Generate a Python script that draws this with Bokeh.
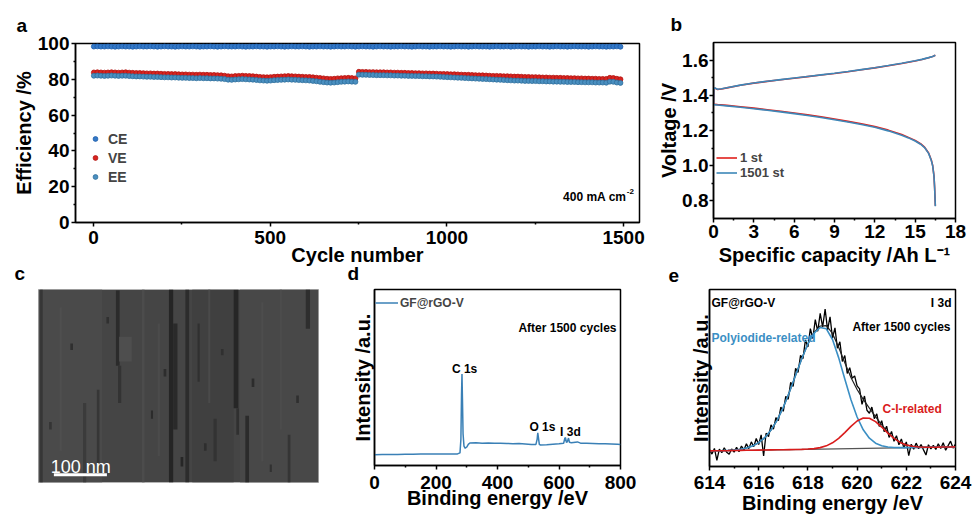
from bokeh.plotting import figure
from bokeh.layouts import column, row
from bokeh.models import Legend, LegendItem, Label, Title, FixedTicker, Range1d, PrintfTickFormatter
from bokeh.embed import file_html
from bokeh.resources import INLINE

FONT = "Liberation Sans"

# ---------- a: efficiencies, every 10th cycle ----------
cycles = list(range(1, 1501, 10))
ce = [98.3, 98.4, 98.3, 98.3, 98.4, 98.3, 98.2, 98.3, 98.4, 98.3,
      98.3, 98.2, 98.3, 98.4, 98.3, 98.3, 98.4, 98.3, 98.2, 98.3,
      98.4, 98.3, 98.3, 98.2, 98.3, 98.4, 98.3, 98.3, 98.4, 98.3,
      98.2, 98.3, 98.3, 98.4, 98.3, 98.2, 98.3, 98.4, 98.3, 98.3,
      98.3, 98.4, 98.3, 98.2, 98.3, 98.3, 98.4, 98.3, 98.3, 98.2,
      98.3, 98.3, 98.4, 98.3, 98.2, 98.3, 98.4, 98.3, 98.3, 98.4,
      98.3, 98.2, 98.3, 98.3, 98.4, 98.3, 98.3, 98.2, 98.3, 98.4,
      98.3, 98.3, 98.4, 98.3, 98.2, 98.3, 98.4, 98.3, 98.3, 98.2,
      98.3, 98.4, 98.3, 98.3, 98.2, 98.3, 98.3, 98.4, 98.3, 98.3,
      98.2, 98.3, 98.4, 98.3, 98.3, 98.2, 98.3, 98.3, 98.4, 98.3,
      98.3, 98.2, 98.3, 98.4, 98.3, 98.3, 98.2, 98.3, 98.4, 98.3,
      98.3, 98.3, 98.2, 98.3, 98.4, 98.3, 98.3, 98.4, 98.2, 98.3,
      98.4, 98.3, 98.3, 98.2, 98.3, 98.3, 98.4, 98.3, 98.3, 98.2,
      98.3, 98.4, 98.3, 98.3, 98.2, 98.3, 98.4, 98.3, 98.3, 98.3,
      98.2, 98.3, 98.4, 98.3, 98.3, 98.2, 98.3, 98.3, 98.4, 98.2]
ve = [83.8, 83.9, 83.8, 83.7, 83.8, 83.9, 83.8, 83.7, 83.8, 83.9,
      83.7, 83.6, 83.5, 83.5, 83.4, 83.3, 83.3, 83.2, 83.2, 83.1,
      83.0, 83.0, 82.9, 82.9, 82.8, 82.7, 82.7, 82.6, 82.6, 82.5,
      82.6, 82.5, 82.5, 82.4, 82.4, 82.3, 82.2, 82.0, 81.7, 81.6,
      81.8, 81.9, 82.0, 81.9, 81.8, 81.7, 81.5, 81.3, 81.2, 81.1,
      81.2, 81.4, 81.5, 81.6, 81.7, 81.8, 81.7, 81.6, 81.5, 81.4,
      81.3, 81.3, 81.1, 80.9, 80.7, 80.5, 80.3, 80.2, 80.3, 80.5,
      80.6, 80.7, 80.8, 80.7, 80.5, 84.2, 84.1, 84.1, 84.0, 84.0,
      83.9, 83.9, 83.9, 83.8, 83.8, 83.7, 83.7, 83.6, 83.6, 83.5,
      83.5, 83.4, 83.4, 83.3, 83.3, 83.2, 83.2, 83.1, 83.0, 83.0,
      82.9, 82.8, 82.8, 82.7, 82.6, 82.5, 82.5, 82.4, 82.3, 82.2,
      82.2, 82.1, 82.0, 81.9, 81.9, 81.8, 81.7, 81.7, 81.6, 81.5,
      81.5, 81.4, 81.3, 81.3, 81.2, 81.2, 81.1, 81.0, 81.0, 80.9,
      80.9, 80.8, 80.8, 80.7, 80.7, 80.6, 80.6, 80.5, 80.5, 80.4,
      80.4, 80.3, 80.3, 80.2, 80.2, 80.2, 80.8, 80.7, 80.3, 80.0]
ee = [82.0, 82.1, 82.0, 81.9, 82.0, 82.1, 82.0, 81.9, 82.0, 82.0,
      81.8, 81.7, 81.6, 81.6, 81.5, 81.4, 81.4, 81.3, 81.3, 81.2,
      81.1, 81.1, 81.0, 81.0, 80.9, 80.8, 80.8, 80.7, 80.7, 80.6,
      80.7, 80.6, 80.6, 80.5, 80.5, 80.4, 80.3, 80.1, 79.8, 79.7,
      79.9, 80.0, 80.1, 80.0, 79.9, 79.8, 79.6, 79.4, 79.3, 79.2,
      79.3, 79.5, 79.6, 79.7, 79.8, 79.9, 79.8, 79.7, 79.6, 79.5,
      79.4, 79.3, 79.1, 78.9, 78.6, 78.4, 78.2, 78.1, 78.2, 78.4,
      78.6, 78.7, 78.8, 78.7, 78.6, 82.6, 82.5, 82.5, 82.4, 82.4,
      82.3, 82.3, 82.3, 82.2, 82.2, 82.1, 82.1, 82.0, 82.0, 81.9,
      81.9, 81.8, 81.8, 81.7, 81.7, 81.6, 81.6, 81.5, 81.4, 81.3,
      81.2, 81.1, 81.0, 80.9, 80.8, 80.7, 80.6, 80.5, 80.4, 80.3,
      80.2, 80.1, 80.0, 79.9, 79.8, 79.7, 79.6, 79.5, 79.4, 79.3,
      79.3, 79.2, 79.1, 79.1, 79.0, 79.0, 78.9, 78.9, 78.8, 78.8,
      78.7, 78.7, 78.6, 78.6, 78.5, 78.5, 78.5, 78.4, 78.4, 78.3,
      78.3, 78.3, 78.2, 78.2, 78.2, 78.1, 78.7, 78.6, 78.2, 78.0]

# ---------- b: charge / discharge curves ----------
chg_cap = [0, 0.03, 0.1, 0.3, 0.6, 1, 2, 3, 4, 5, 6, 7, 8, 9, 10, 11, 12, 13, 14, 15, 15.5, 16, 16.3, 16.5]
chg_1st = [1.345, 1.438, 1.441, 1.433, 1.436, 1.442, 1.457, 1.469, 1.479, 1.488, 1.497, 1.506,
           1.515, 1.524, 1.534, 1.545, 1.556, 1.568, 1.581, 1.595, 1.603, 1.613, 1.620, 1.627]
chg_1501 = [1.345, 1.440, 1.442, 1.434, 1.437, 1.443, 1.458, 1.470, 1.480, 1.489, 1.498, 1.507,
            1.516, 1.525, 1.535, 1.546, 1.557, 1.569, 1.582, 1.596, 1.604, 1.614, 1.621, 1.628]
dis_cap = [0, 0.3, 1, 2, 3, 4, 5, 6, 7, 8, 9, 10, 11, 12, 13, 14, 14.5, 15, 15.4, 15.7,
           16.0, 16.2, 16.3, 16.4, 16.45, 16.5]
dis_1st = [1.349, 1.347, 1.343, 1.335, 1.327, 1.318, 1.309, 1.299, 1.289, 1.278, 1.265, 1.252, 1.238,
           1.222, 1.202, 1.177, 1.161, 1.143, 1.125, 1.105, 1.072, 1.032, 1.002, 0.942, 0.872, 0.772]
dis_1501 = [1.347, 1.345, 1.340, 1.332, 1.324, 1.315, 1.306, 1.296, 1.285, 1.274, 1.261, 1.248, 1.234,
            1.218, 1.198, 1.173, 1.158, 1.140, 1.122, 1.103, 1.070, 1.030, 1.000, 0.940, 0.870, 0.770]

# ---------- c: SEM image, drawn as grey streaks and pores (nm) ----------
sem_left = [0, 380, 290, 3, 84, 110, 146, 150, 246, 254, 277, 300, 330, 368, 373, 390, 504, 470,
            40, 152, 195, 225, 320, 420, 455, 60, 128, 212, 236, 268, 312, 344, 402, 436, 486, 20]
sem_right = [120, 528, 368, 8, 90, 115, 153, 156, 254, 262, 284, 304, 336, 377, 378, 397, 512, 475,
             44, 176, 200, 229, 324, 424, 459, 65, 133, 216, 241, 273, 317, 349, 407, 440, 491, 25]
sem_bottom = [0, 0, 0, 0, 0, 20, 220, 150, 0, 100, 0, 190, 40, 140, 90, 0, 290, 0,
              60, 228, 0, 50, 150, 40, 100, 250, 300, 120, 200, 30, 60, 240, 180, 20, 150, 100]
sem_top = [364, 364, 364, 364, 150, 175, 362, 220, 364, 300, 364, 300, 120, 364, 140, 126, 364, 90,
           330, 275, 364, 300, 364, 340, 364, 262, 312, 136, 214, 48, 74, 252, 196, 34, 164, 114]
sem_color = ["#4a4a4a", "#484848", "#404040", "#363636", "#3b3b3b", "#363636", "#2b2b2b", "#333333",
             "#252525", "#2a2a2a", "#2c2c2c", "#303030", "#333333", "#262626", "#303030", "#2b2b2b",
             "#2e2e2e", "#353535", "#4f4f4f", "#4e4e4e", "#4c4c4c", "#4b4b4b", "#4a4a4a", "#4d4d4d",
             "#4c4c4c", "#2f2f2f", "#303030", "#2b2b2b", "#2d2d2d", "#262626", "#2e2e2e", "#303030",
             "#2c2c2c", "#313131", "#2f2f2f", "#343434"]
bar_nm = 100

# ---------- d: XPS survey ----------
survey_ev = [0, 25, 50, 75, 100, 125, 150, 175, 200, 225, 250, 270, 278, 281, 283, 284.5, 286, 288, 291,
             295, 300, 305, 310, 330, 350, 370, 390, 410, 430, 450, 470, 490, 510, 525, 529, 531, 533,
             536, 540, 560, 580, 600, 615, 619, 621, 624, 627, 631, 634, 640, 660, 670, 690, 710, 730,
             750, 770, 790, 800]
survey_int = [6.1, 6.2, 6.3, 6.3, 6.4, 6.4, 6.5, 6.5, 6.5, 6.6, 6.6, 6.6, 7.2, 15, 40, 52, 38, 18, 11,
              9.8, 10.5, 12.0, 12.8, 12.9, 12.7, 12.8, 12.6, 12.7, 12.5, 12.4, 12.5, 12.2, 11.9, 12.0, 15,
              18.6, 16, 12, 11.6, 11.8, 12.1, 12.3, 12.6, 15.5, 15.8, 13.2, 13.5, 15.6, 13.2, 12.9, 13.4,
              12.7, 12.6, 12.5, 12.4, 12.3, 12.2, 12.1, 12.0]

# ---------- e: I 3d high resolution ----------
i3d_ev = [round(614 + 0.1 * i, 1) for i in range(101)]
i3d_int = [9.5, 7.0, 10.2, 3.5, 9.8, 7.8, 10.6, 8.0, 6.9, 9.9,
           8.1, 10.8, 8.4, 11.6, 9.3, 12.8, 10.1, 13.9, 11.2, 15.8,
           12.4, 17.9, 6.0, 18.8, 16.9, 23.5, 21.1, 27.6, 25.9, 33.5,
           31.2, 39.6, 38.0, 47.5, 45.2, 55.4, 53.1, 62.8, 60.9, 71.5,
           67.5, 77.9, 72.3, 83.0, 76.4, 86.5, 78.8, 89.0, 77.2, 84.6,
           72.6, 78.3, 66.8, 70.5, 59.3, 62.7, 52.6, 55.8, 49.9, 51.2,
           45.6, 43.9, 35.1, 39.8, 31.8, 30.1, 33.6, 27.0, 29.8, 22.6,
           25.9, 19.7, 22.8, 16.4, 19.8, 14.2, 17.4, 12.3, 15.6, 10.5,
           13.9, 6.2, 12.6, 9.8, 13.2, 10.1, 12.4, 9.4, 6.5, 12.3,
           10.0, 11.9, 9.6, 12.8, 10.2, 13.4, 9.2, 11.8, 14.3, 10.4, 12.6]
fit_ev = [614 + 0.25 * i for i in range(41)]
fit_poly = [8.81, 8.89, 8.99, 9.12, 9.36, 9.76, 10.45, 11.60, 13.50, 16.37, 20.58, 26.23, 33.39, 42.05,
            51.51, 60.86, 69.22, 75.38, 78.54, 77.79, 71.75, 61.51, 49.47, 37.72, 27.98, 20.74, 15.97,
            13.16, 11.69, 11.00, 10.73, 10.65, 10.64, 10.70, 10.76, 10.81, 10.87, 10.93, 10.99, 11.04, 11.10]
fit_ci = [8.80, 8.86, 8.92, 8.97, 9.03, 9.09, 9.15, 9.20, 9.26, 9.32, 9.38, 9.43, 9.49, 9.55, 9.62,
          9.70, 9.85, 10.12, 10.67, 11.67, 13.37, 15.91, 19.17, 22.68, 25.70, 27.39, 27.26, 25.35, 22.29,
          18.89, 15.87, 13.61, 12.18, 11.40, 11.04, 10.91, 10.90, 10.93, 10.99, 11.04, 11.10]
fit_sum = [8.81, 8.89, 8.99, 9.12, 9.36, 9.76, 10.45, 11.60, 13.50, 16.37, 20.58, 26.23, 33.39, 42.05,
           51.52, 60.90, 69.35, 75.72, 79.37, 79.57, 75.17, 67.41, 58.57, 50.28, 43.50, 37.89, 32.93,
           28.16, 23.57, 19.42, 16.07, 13.68, 12.18, 11.40, 11.04, 10.91, 10.90, 10.93, 10.99, 11.04, 11.10]
base_ev = [614, 624]
base_int = [8.8, 11.1]


def make_fig(w, h, left, right, top, bottom, xr, yr, axes=True):
    kw = {} if axes else dict(x_axis_location=None, y_axis_location=None)
    p = figure(width=w, height=h, x_range=Range1d(*xr), y_range=Range1d(*yr),
               min_border_left=left, min_border_right=right,
               min_border_top=top, min_border_bottom=bottom,
               toolbar_location=None, output_backend="svg", title=None, **kw)
    p.xgrid.visible = False
    p.ygrid.visible = False
    p.outline_line_color = "black"
    p.outline_line_width = 1.5
    return p


def style_axes(p, x_std, y_std, lbl_std=2):
    for ax in p.axis:
        ax.axis_line_width = 1.5
        ax.major_tick_line_width = 1.5
        ax.minor_tick_line_width = 1.5
        ax.major_tick_in = 0
        ax.major_tick_out = 4
        ax.minor_tick_in = 0
        ax.minor_tick_out = 2
        ax.major_label_standoff = lbl_std
        ax.major_label_text_font = FONT
        ax.major_label_text_font_style = "bold"
        ax.major_label_text_font_size = "19px"
        ax.major_label_text_color = "black"
        ax.axis_label_text_font = FONT
        ax.axis_label_text_font_style = "bold"
        ax.axis_label_text_font_size = "20px"
        ax.axis_label_text_color = "black"
    p.xaxis.axis_label_standoff = x_std
    p.yaxis.axis_label_standoff = y_std


def hide_y(p):
    p.yaxis.ticker = FixedTicker(ticks=[])
    p.yaxis.major_tick_out = 0
    p.yaxis.minor_tick_out = 0


def note(p, text, x, y, size="12px", color="black", align="left", units="screen", style="bold"):
    p.add_layout(Label(x=x, y=y, x_units=units, y_units=units, text=text, text_font=FONT,
                       text_font_style=style, text_font_size=size, text_color=color,
                       text_align=align, text_baseline="alphabetic"))


def letter(p, text, offset, standoff):
    p.add_layout(Title(text=text, align="left", offset=offset, standoff=standoff, text_font=FONT,
                       text_font_style="bold", text_font_size="19px", text_color="black"), "above")


def small_legend(items, loc, size, gw, gh, std):
    return Legend(items=items, location=loc, border_line_color=None, background_fill_alpha=0,
                  label_text_font=FONT, label_text_font_style="bold", label_text_font_size=size,
                  glyph_width=gw, glyph_height=gh, label_height=gh, label_standoff=std,
                  spacing=0, padding=0, margin=0)


TOP_H = 278      # top row canvas height
BOT_H = 278      # bottom row canvas height (starts above the end of the top row)
OVERLAP = TOP_H + BOT_H - 524
top_c = 289 - (524 - BOT_H)

# ---------- panel a ----------
pa = make_fig(655, TOP_H, 75, 16, 43, TOP_H - 222, (-51, 1545), (0, 100))
r_ce = pa.scatter(cycles, ce, size=5, marker="circle", fill_color="#3479c8", line_color="#1c5ca8", line_width=0.8)
r_ve = pa.scatter(cycles, ve, size=5, marker="circle", fill_color="#d9231f", line_color="#b01512", line_width=0.8)
r_ee = pa.scatter(cycles, ee, size=5, marker="circle", fill_color="#4a8fc0", line_color="#2f6f9c", line_width=0.8)
pa.xaxis.axis_label = "Cycle number"
pa.yaxis.axis_label = "Efficiency /%"
pa.xaxis.ticker = FixedTicker(ticks=[0, 500, 1000, 1500], minor_ticks=[250, 750, 1250])
pa.yaxis.ticker = FixedTicker(ticks=[0, 20, 40, 60, 80, 100], minor_ticks=[10, 30, 50, 70, 90])
style_axes(pa, -3, 0)
pa.xaxis.major_label_standoff = 4
pa.add_layout(small_legend([LegendItem(label="CE", renderers=[r_ce]),
                            LegendItem(label="VE", renderers=[r_ve]),
                            LegendItem(label="EE", renderers=[r_ee])], (14, 36), "14px", 12, 19, 7))
note(pa, "400 mA cm", 1508, 14, units="data", align="right")
note(pa, "-2", 1509, 17.5, size="8px", units="data")
letter(pa, "a", -59, 16)

# ---------- panel b ----------
pb = make_fig(325, TOP_H, 54, 25, 42, TOP_H - 218, (0, 18), (0.7, 1.7))
r1 = pb.line(chg_cap, chg_1st, color="#e0201c", line_width=1.6)
pb.line(dis_cap, dis_1st, color="#e0201c", line_width=1.6)
r2 = pb.line(chg_cap, chg_1501, color="#3d87b8", line_width=1.6)
pb.line(dis_cap, dis_1501, color="#3d87b8", line_width=1.6)
pb.xaxis.axis_label = "Specific capacity /Ah L\u207b\u00b9"
pb.yaxis.axis_label = "Voltage /V"
pb.xaxis.ticker = FixedTicker(ticks=[0, 3, 6, 9, 12, 15, 18], minor_ticks=[1.5, 4.5, 7.5, 10.5, 13.5, 16.5])
pb.yaxis.ticker = FixedTicker(ticks=[0.8, 1.0, 1.2, 1.4, 1.6], minor_ticks=[0.9, 1.1, 1.3, 1.5])
pb.yaxis.formatter = PrintfTickFormatter(format="%.1f")
style_axes(pb, 3, -1)
pb.yaxis.major_label_standoff = 1
pb.add_layout(small_legend([LegendItem(label="1 st", renderers=[r1]),
                            LegendItem(label="1501 st", renderers=[r2])], (3, 38), "13px", 21, 15, 3))
letter(pb, "b", -43, 15)

# ---------- panel c ----------
pc = make_fig(340, BOT_H, 38, 22, top_c, 42, (0, 528), (0, 364), axes=False)
pc.background_fill_color = "#454545"
pc.outline_line_color = "#b5b5b5"
pc.outline_line_width = 1
pc.quad(left=sem_left, right=sem_right, bottom=sem_bottom, top=sem_top,
        fill_color=sem_color, line_color=None)
pc.line([29, 29 + bar_nm], [14.5, 14.5], color="white", line_width=3)
note(pc, "100 nm", 23, 29, size="18px", color="white", units="data", style="normal")
letter(pc, "c", -24, 12)

# ---------- panel d ----------
pd_ = make_fig(315, BOT_H, 34, 35, top_c, 59, (0, 800), (0, 100))
r_s = pd_.line(survey_ev, survey_int, color="#3a80b6", line_width=1.5)
pd_.xaxis.axis_label = "Binding energy /eV"
pd_.yaxis.axis_label = "Intensity /a.u."
pd_.xaxis.ticker = FixedTicker(ticks=[0, 200, 400, 600, 800], minor_ticks=[100, 300, 500, 700])
style_axes(pd_, -5, 1)
pd_.xaxis.major_label_standoff = 6
hide_y(pd_)
pd_.add_layout(small_legend([LegendItem(label="GF@rGO-V", renderers=[r_s])], (1, 155), "12px", 23, 15, 2))
note(pd_, "After 1500 cycles", 242, 138, align="right")
note(pd_, "C 1s", 293, 55, align="center", units="data")
note(pd_, "O 1s", 546, 21.6, align="center", units="data")
note(pd_, "I 3d", 637, 18.8, align="center", units="data")
letter(pd_, "d", -27, 12)

# ---------- panel e ----------
pe = make_fig(325, BOT_H, 54, 25, top_c, 58, (614, 624), (0, 100))
pe.line(base_ev, base_int, color="#555555", line_width=1.2)
pe.line(i3d_ev, i3d_int, color="black", line_width=1.3)
pe.line(fit_ev, fit_sum, color="#222222", line_width=1.2)
pe.line(fit_ev, fit_poly, color="#3b8fc4", line_width=1.6)
pe.line(fit_ev, fit_ci, color="#d91c1c", line_width=1.6)
pe.xaxis.axis_label = "Binding energy /eV"
pe.yaxis.axis_label = "Intensity /a.u."
pe.xaxis.ticker = FixedTicker(ticks=[614, 616, 618, 620, 622, 624], minor_ticks=[615, 617, 619, 621, 623])
style_axes(pe, 0, -2)
pe.xaxis.major_label_standoff = 5
hide_y(pe)
note(pe, "GF@rGO-V", 2, 164)
note(pe, "I 3d", 242, 164, align="right")
note(pe, "After 1500 cycles", 241, 140, align="right")
note(pe, "Polyiodide-related", 2, 129, color="#3b8fc4")
note(pe, "C-I-related", 173, 58, color="#d91c1c")
letter(pe, "e", -41, 16)

for p in (pc, pd_, pe):
    p.border_fill_alpha = 0

# each plot sits in its own column so the rows do not align their frames
top = row(column(pa), column(pb))
bottom = row(column(pc), column(pd_), column(pe), styles={"margin-top": f"-{OVERLAP}px"})
layout = column(top, bottom)
open("out.html", "w").write(file_html(layout, INLINE))
